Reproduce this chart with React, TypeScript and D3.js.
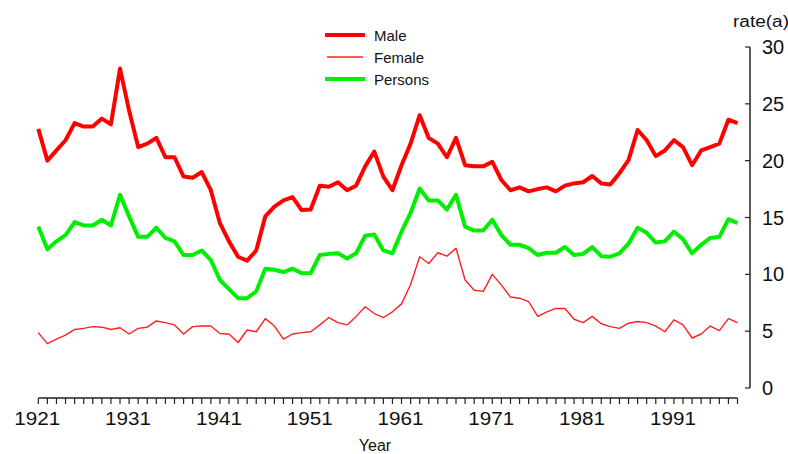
import React, { useEffect, useRef } from 'react';
import * as d3 from 'd3';

const years = d3.range(1921, 1999);

const male = [
  22.8, 20.0, 20.9, 21.8, 23.3, 23.0, 23.0, 23.7, 23.2, 28.1,
  24.4, 21.2, 21.5, 22.0, 20.3, 20.3, 18.6, 18.5, 19.0, 17.4,
  14.5, 12.9, 11.55, 11.2, 12.1, 15.1, 15.95, 16.5, 16.8, 15.65,
  15.7, 17.8, 17.7, 18.1, 17.4, 17.8, 19.5, 20.8, 18.6, 17.4,
  19.6, 21.5, 24.0, 22.0, 21.5, 20.3, 22.0, 19.6, 19.5, 19.5,
  19.9, 18.3, 17.4, 17.65, 17.3, 17.5, 17.65, 17.3, 17.8, 18.0,
  18.1, 18.65, 18.0, 17.9, 18.9, 20.05, 22.7, 21.8, 20.4, 20.9,
  21.8, 21.2, 19.6, 20.9, 21.2, 21.5, 23.6, 23.3,
];

const female = [
  4.87, 3.9, 4.3, 4.65, 5.15, 5.25, 5.4, 5.35, 5.15, 5.3,
  4.75, 5.25, 5.35, 5.9, 5.75, 5.55, 4.75, 5.4, 5.45, 5.45,
  4.8, 4.75, 4.0, 5.1, 4.95, 6.1, 5.45, 4.3, 4.75, 4.87,
  4.95, 5.55, 6.2, 5.75, 5.55, 6.3, 7.15, 6.55, 6.2, 6.7,
  7.4, 9.1, 11.55, 10.95, 11.9, 11.6, 12.3, 9.5, 8.6, 8.5,
  10.0, 9.05, 8.0, 7.9, 7.6, 6.3, 6.7, 7.0, 7.0, 6.05,
  5.75, 6.3, 5.65, 5.4, 5.25, 5.7, 5.85, 5.75, 5.45, 4.95,
  6.0, 5.55, 4.4, 4.75, 5.45, 5.05, 6.1, 5.75,
];

const persons = [
  14.2, 12.2, 12.9, 13.45, 14.6, 14.3, 14.3, 14.8, 14.3, 17.0,
  15.1, 13.3, 13.3, 14.1, 13.2, 12.9, 11.7, 11.7, 12.1, 11.25,
  9.5, 8.7, 7.9, 7.9, 8.5, 10.5, 10.4, 10.2, 10.5, 10.1,
  10.1, 11.7, 11.8, 11.85, 11.4, 11.85, 13.4, 13.5, 12.1, 11.85,
  13.75, 15.4, 17.55, 16.5, 16.5, 15.7, 17.0, 14.2, 13.85, 13.85,
  14.8, 13.45, 12.6, 12.6, 12.3, 11.7, 11.9, 11.9, 12.4, 11.7,
  11.8, 12.4, 11.6, 11.55, 11.85, 12.7, 14.1, 13.65, 12.8, 12.9,
  13.75, 13.1, 11.85, 12.6, 13.2, 13.3, 14.85, 14.5,
];

const xTickLabels = [1921, 1931, 1941, 1951, 1961, 1971, 1981, 1991];
const yTicks = [0, 5, 10, 15, 20, 25, 30];

const series = [
  { name: 'Male', values: male, color: '#ff0000', width: 4 },
  { name: 'Female', values: female, color: '#ff2020', width: 1.4 },
  { name: 'Persons', values: persons, color: '#00ee00', width: 4 },
];

const SuicideChart: React.FC = () => {
  const svgRef = useRef<SVGSVGElement>(null);

  useEffect(() => {
    if (!svgRef.current) return;
    const width = 788;
    const height = 454;
    const font = 'Arial, "Liberation Sans", sans-serif';

    const svg = d3.select(svgRef.current)
      .attr('width', width)
      .attr('height', height)
      .html('');

    const x = d3.scaleLinear().domain([1921, 1998]).range([38.3, 737.5]);
    const y = d3.scaleLinear().domain([0, 30]).range([388, 47]);

    // x axis (years)
    const xAxis = svg.append('g').attr('transform', 'translate(0,398)');
    xAxis.append('line')
      .attr('x1', x(1921)).attr('x2', x(1998))
      .attr('stroke', '#222').attr('stroke-width', 1.5);
    xAxis.selectAll('line.tick')
      .data(years)
      .join('line')
      .attr('class', 'tick')
      .attr('x1', d => x(d)).attr('x2', d => x(d))
      .attr('y1', 0).attr('y2', 6)
      .attr('stroke', '#222').attr('stroke-width', 1.2);
    xAxis.selectAll('text')
      .data(xTickLabels)
      .join('text')
      .attr('x', d => x(d) - 24)
      .attr('y', 27)
      .attr('font-family', font)
      .attr('font-size', 18)
      .attr('textLength', 46)
      .attr('lengthAdjust', 'spacingAndGlyphs')
      .attr('fill', '#111')
      .text(d => d);

    svg.append('text')
      .attr('x', 375).attr('y', 451)
      .attr('text-anchor', 'middle')
      .attr('font-family', font)
      .attr('font-size', 16)
      .attr('fill', '#111')
      .text('Year');

    // y axis on the right
    const yAxis = svg.append('g').attr('transform', 'translate(750,0)');
    yAxis.append('line')
      .attr('y1', y(0)).attr('y2', y(30))
      .attr('stroke', '#222').attr('stroke-width', 1.5);
    yAxis.selectAll('line.tick')
      .data(yTicks)
      .join('line')
      .attr('class', 'tick')
      .attr('x1', -5).attr('x2', 0)
      .attr('y1', d => y(d)).attr('y2', d => y(d))
      .attr('stroke', '#222').attr('stroke-width', 1.2);
    yAxis.selectAll('text')
      .data(yTicks)
      .join('text')
      .attr('x', 12)
      .attr('y', d => y(d) + 7)
      .attr('font-family', font)
      .attr('font-size', 20)
      .attr('fill', '#111')
      .text(d => d);

    svg.append('text')
      .attr('x', 733).attr('y', 27)
      .attr('font-family', font)
      .attr('font-size', 16)
      .attr('textLength', 56)
      .attr('lengthAdjust', 'spacingAndGlyphs')
      .attr('fill', '#111')
      .text('rate(a)');

    // lines
    const line = d3.line<number>()
      .x((_, i) => x(years[i]))
      .y(d => y(d));

    series.forEach(s => {
      svg.append('path')
        .datum(s.values)
        .attr('fill', 'none')
        .attr('stroke', s.color)
        .attr('stroke-width', s.width)
        .attr('stroke-linejoin', 'round')
        .attr('d', line);
    });

    // legend
    const legendY = [35, 57, 79];
    const legend = svg.append('g');
    series.forEach((s, i) => {
      legend.append('line')
        .attr('x1', s.name === 'Female' ? 327 : 325)
        .attr('x2', s.name === 'Female' ? 363 : 365)
        .attr('y1', legendY[i]).attr('y2', legendY[i])
        .attr('stroke', s.color)
        .attr('stroke-width', s.width);
      legend.append('text')
        .attr('x', 374)
        .attr('y', legendY[i] + 6)
        .attr('font-family', font)
        .attr('font-size', 15)
        .attr('fill', '#111')
        .text(s.name);
    });
  }, []);

  return (
    <svg
      ref={svgRef}
      style={{ position: 'absolute', left: 0, top: 0, background: '#fff' }}
    />
  );
};

export default SuicideChart;
